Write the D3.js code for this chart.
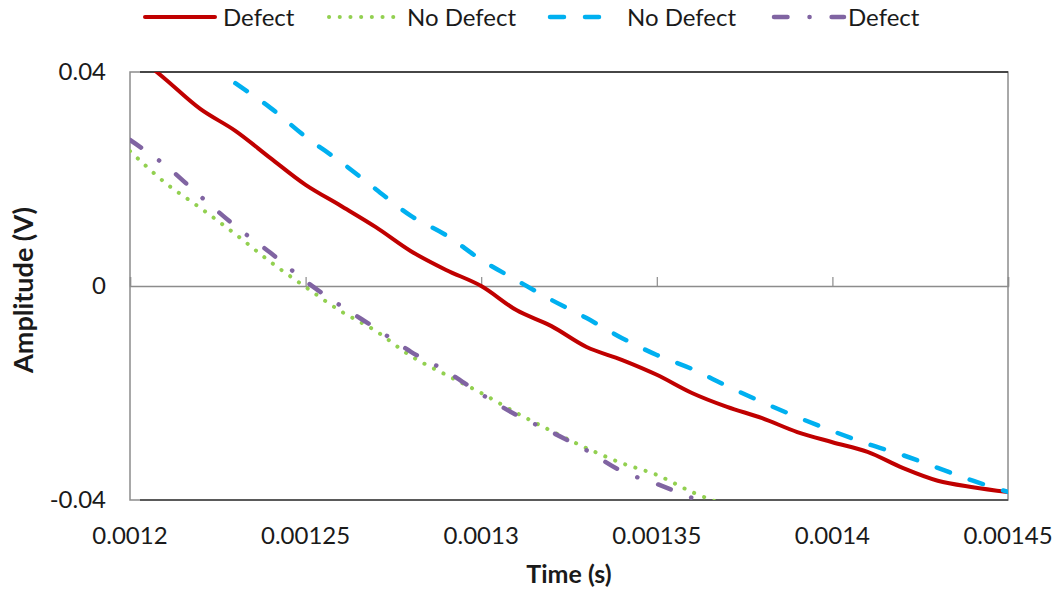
<!DOCTYPE html>
<html>
<head>
<meta charset="utf-8">
<script src="https://cdn.jsdelivr.net/npm/d3@7"></script>
<style>
  html, body { margin: 0; padding: 0; background: #fff; }
  svg { display: block; font-family: Lato, "Open Sans", sans-serif; }
</style>
</head>
<body>
<svg id="chart" width="1055" height="594"></svg>
<script>
// Sample times (s)
const time = [
  0.00120, 0.00121, 0.00122, 0.00123, 0.00124, 0.00125, 0.00126, 0.00127, 0.00128,
  0.00129, 0.00130, 0.00131, 0.00132, 0.00133, 0.00134, 0.00135, 0.00136, 0.00137,
  0.00138, 0.00139, 0.00140, 0.00141, 0.00142, 0.00143, 0.00144, 0.00145
];

// Amplitudes (V); null where a trace has no sample
const defectA = [
  0.0441, 0.0387, 0.0331, 0.0290, 0.0239, 0.0189, 0.0150, 0.0110, 0.0065,
  0.0030, 0.0000, -0.0045, -0.0075, -0.0114, -0.0138, -0.0166, -0.0200, -0.0226,
  -0.0247, -0.0273, -0.0292, -0.0310, -0.0340, -0.0364, -0.0376, -0.0385
];
const noDefectA = [
  0.0252, 0.0193, 0.0146, 0.0097, 0.0045, -0.0002, -0.0047, -0.0084, -0.0131,
  -0.0166, -0.0200, -0.0237, -0.0271, -0.0303, -0.0331, -0.0353, -0.0385, -0.0411,
  null, null, null, null, null, null, null, null
];
const noDefectB = [
  null, null, null, 0.0379, 0.0333, 0.0279, 0.0232, 0.0181, 0.0131,
  0.0095, 0.0049, 0.0011, -0.0026, -0.0060, -0.0097, -0.0129, -0.0155, -0.0187,
  -0.0217, -0.0245, -0.0271, -0.0295, -0.0316, -0.0340, -0.0364, -0.0385
];
const defectB = [
  0.0273, 0.0226, 0.0168, 0.0112, 0.0062, 0.0009, -0.0037, -0.0079, -0.0123,
  -0.0159, -0.0202, -0.0241, -0.0273, -0.0307, -0.0346, -0.0370, -0.0396, -0.0422,
  null, null, null, null, null, null, null, null
];

const seriesNames = ["Defect", "No Defect", "No Defect", "Defect"];
const xTickValues = [0.0012, 0.00125, 0.0013, 0.00135, 0.0014, 0.00145];
const xTickLabels = ["0.0012", "0.00125", "0.0013", "0.00135", "0.0014", "0.00145"];
const yTickValues = [0.04, 0, -0.04];
const yTickLabels = ["0.04", "0", "-0.04"];

// Line styles, in the order of the series
const styles = [
  { color: "#C00000", dash: null,            cap: "round", width: 4 },
  { color: "#92D050", dash: "0.1 10.6",      cap: "round", width: 4 },
  { color: "#00B0F0", dash: "14 21",         cap: "round", width: 4.5 },
  { color: "#8064A2", dash: "13.5 22 0.1 22", cap: "round", width: 4.5 }
];
const seriesValues = [defectA, noDefectA, noDefectB, defectB];

const svg = d3.select("#chart");
const plot = { left: 130, right: 1008, top: 72, bottom: 500 };

const x = d3.scaleLinear().domain([0.0012, 0.00145]).range([plot.left, plot.right]);
const y = d3.scaleLinear().domain([-0.04, 0.04]).range([plot.bottom, plot.top]);

svg.append("defs").append("clipPath").attr("id", "plot-clip")
  .append("rect")
  .attr("x", plot.left).attr("y", plot.top)
  .attr("width", plot.right - plot.left).attr("height", plot.bottom - plot.top);

// Plot frame
svg.append("rect")
  .attr("x", plot.left).attr("y", plot.top)
  .attr("width", plot.right - plot.left).attr("height", plot.bottom - plot.top)
  .attr("fill", "none").attr("stroke", "#8c8c8c").attr("stroke-width", 1.5);
svg.append("line")
  .attr("x1", plot.left + 10).attr("x2", plot.right)
  .attr("y1", y(0.04)).attr("y2", y(0.04))
  .attr("stroke", "#262626").attr("stroke-width", 1.5);
svg.append("line")
  .attr("x1", plot.left + 10).attr("x2", plot.right)
  .attr("y1", y(-0.04)).attr("y2", y(-0.04))
  .attr("stroke", "#404040").attr("stroke-width", 1.5);

// Horizontal axis crossing at zero, ticks pointing up
const xAxis = d3.axisTop(x)
  .tickValues(xTickValues)
  .tickSize(9)
  .tickFormat("");
const xAxisG = svg.append("g")
  .attr("transform", `translate(0,${y(0)})`)
  .call(xAxis);
xAxisG.select(".domain").attr("stroke", "#8c8c8c").attr("stroke-width", 1.5);
xAxisG.selectAll(".tick line").attr("stroke", "#8c8c8c").attr("stroke-width", 1.2);

// Tick labels along the bottom
svg.append("g").selectAll("text")
  .data(xTickValues)
  .join("text")
  .attr("x", d => x(d))
  .attr("y", 544)
  .attr("text-anchor", "middle")
  .attr("font-size", 24)
  .attr("fill", "#1a1a1a")
  .text((d, i) => xTickLabels[i]);

svg.append("g").selectAll("text")
  .data(yTickValues)
  .join("text")
  .attr("x", 106)
  .attr("y", d => y(d))
  .attr("dy", "0.35em")
  .attr("text-anchor", "end")
  .attr("font-size", 24)
  .attr("fill", "#1a1a1a")
  .text((d, i) => yTickLabels[i]);

// Axis titles
svg.append("text")
  .attr("x", 569).attr("y", 583)
  .attr("text-anchor", "middle")
  .attr("font-size", 25).attr("font-weight", "bold")
  .attr("fill", "#1a1a1a")
  .text("Time (s)");
svg.append("text")
  .attr("transform", "translate(33,290) rotate(-90)")
  .attr("text-anchor", "middle")
  .attr("font-size", 27).attr("font-weight", "bold")
  .attr("fill", "#1a1a1a")
  .text("Amplitude (V)");

// Traces
const line = d3.line()
  .defined(d => d.v !== null)
  .x(d => x(d.t))
  .y(d => y(d.v))
  .curve(d3.curveCatmullRom.alpha(0.5));

const traces = svg.append("g").attr("clip-path", "url(#plot-clip)");
seriesValues.forEach((vals, i) => {
  const pts = time.map((t, j) => ({ t, v: vals[j] }));
  const st = styles[i];
  traces.append("path")
    .datum(pts)
    .attr("d", line)
    .attr("fill", "none")
    .attr("stroke", st.color)
    .attr("stroke-width", st.width)
    .attr("stroke-linecap", st.cap)
    .attr("stroke-linejoin", "round")
    .attr("stroke-dasharray", st.dash);
});

// Legend
const legendX = [145, 329, 550, 774];
const legendTextX = [223, 407, 627, 848];
const legendLen = [70, 66, 60, 70];
const legend = svg.append("g");
seriesNames.forEach((name, i) => {
  const st = styles[i];
  legend.append("line")
    .attr("x1", legendX[i]).attr("x2", legendX[i] + legendLen[i])
    .attr("y1", 17).attr("y2", 17)
    .attr("stroke", st.color)
    .attr("stroke-width", st.width)
    .attr("stroke-linecap", st.cap)
    .attr("stroke-dasharray", st.dash);
  legend.append("text")
    .attr("x", legendTextX[i]).attr("y", 26)
    .attr("font-size", 24)
    .attr("fill", "#1a1a1a")
    .text(name);
});
</script>
</body>
</html>
